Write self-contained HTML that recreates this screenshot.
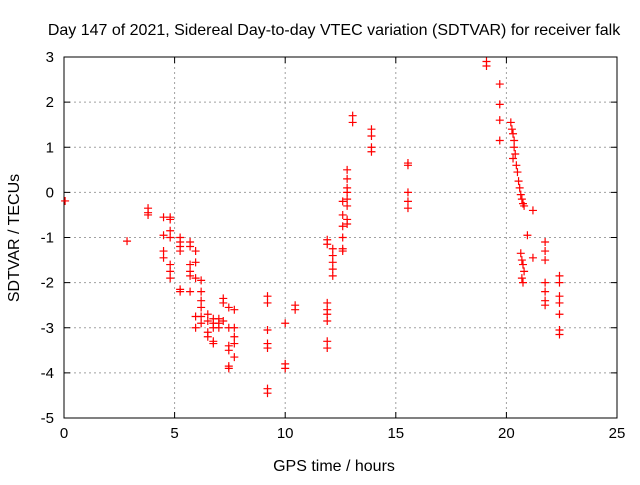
<!DOCTYPE html>
<html><head><meta charset="utf-8"><style>
body{margin:0;background:#fff;}
svg text{font-family:"Liberation Sans",sans-serif;font-size:15px;fill:#000;}
svg text.big{font-size:16px;}
</style></head><body>
<svg id="chart" width="640" height="480">
<text class="big" x="334" y="35" text-anchor="middle">Day 147 of 2021, Sidereal Day-to-day VTEC variation (SDTVAR) for receiver falk</text>
<text class="big" x="334" y="471" text-anchor="middle">GPS time / hours</text>
<text class="big" transform="translate(19,238) rotate(-90)" text-anchor="middle">SDTVAR / TECUs</text>
<g id="grid"></g><g id="axes"></g><g id="pts"></g>
</svg>
<script>
const xTicks=[0,5,10,15,20,25];
const yTicks=[-5,-4,-3,-2,-1,0,1,2,3];
const hours=[0.05,2.85,3.8,3.8,3.8,4.5,4.5,4.5,4.5,4.8,4.8,4.8,4.8,4.8,4.8,4.8,5.25,5.25,5.25,5.25,5.25,5.25,5.7,5.7,5.7,5.7,5.7,5.7,5.95,5.95,5.95,5.95,5.95,6.2,6.2,6.2,6.2,6.2,6.2,6.5,6.5,6.5,6.5,6.75,6.75,6.75,6.75,6.75,7.0,7.0,7.0,7.2,7.2,7.2,7.45,7.45,7.45,7.45,7.45,7.45,7.7,7.7,7.7,7.7,7.7,9.2,9.2,9.2,9.2,9.2,9.2,9.2,10.0,10.0,10.0,10.45,10.45,11.9,11.9,11.9,11.9,11.9,11.9,11.9,11.9,12.15,12.15,12.15,12.15,12.15,12.6,12.6,12.6,12.6,12.6,12.6,12.8,12.8,12.8,12.8,12.8,12.8,12.8,12.8,13.05,13.05,13.9,13.9,13.9,13.9,15.55,15.55,15.55,15.55,15.55,19.1,19.1,19.7,19.7,19.7,19.7,20.2,20.25,20.3,20.35,20.35,20.4,20.3,20.45,20.5,20.55,20.6,20.65,20.7,20.75,20.8,21.2,20.95,21.2,20.65,20.7,20.75,20.8,20.7,20.75,21.75,21.75,21.75,21.75,21.75,21.75,21.75,22.4,22.4,22.4,22.4,22.4,22.4,22.4];
const sdtvar=[-0.19,-1.08,-0.35,-0.45,-0.5,-0.55,-0.95,-1.3,-1.45,-0.55,-0.6,-0.85,-1.0,-1.6,-1.75,-1.9,-1.0,-1.1,-1.2,-1.3,-2.15,-2.2,-1.1,-1.2,-1.6,-1.75,-1.85,-2.2,-1.3,-1.55,-1.9,-2.75,-3.0,-1.95,-2.2,-2.4,-2.55,-2.75,-2.9,-2.7,-2.85,-3.1,-3.2,-2.8,-2.9,-3.0,-3.3,-3.35,-2.8,-2.9,-3.0,-2.35,-2.45,-2.85,-2.55,-3.0,-3.4,-3.5,-3.85,-3.9,-2.6,-3.0,-3.2,-3.35,-3.65,-2.3,-2.45,-3.05,-3.35,-3.45,-4.35,-4.45,-2.9,-3.8,-3.9,-2.5,-2.6,-1.05,-1.15,-2.45,-2.6,-2.7,-2.85,-3.3,-3.45,-1.25,-1.4,-1.55,-1.7,-1.85,-0.2,-0.5,-0.75,-1.0,-1.25,-1.3,0.5,0.3,0.1,0,-0.15,-0.3,-0.6,-0.7,1.7,1.55,1.4,1.25,1.0,0.9,0.65,0.6,0.0,-0.2,-0.35,2.9,2.8,2.4,1.95,1.6,1.15,1.55,1.4,1.3,1.15,1.0,0.85,0.75,0.6,0.45,0.25,0.1,-0.05,-0.15,-0.25,-0.3,-0.4,-0.95,-1.45,-1.35,-1.5,-1.6,-1.75,-1.9,-2.0,-1.1,-1.3,-1.5,-2.0,-2.2,-2.4,-2.5,-1.85,-2.0,-2.3,-2.45,-2.7,-3.05,-3.15];
const L=64,R=617,T=57,B=418;
const X=h=>L+(h-0)/25*(R-L);
const Y=v=>B-(v+5)/8*(B-T);
const NS="http://www.w3.org/2000/svg";
function mk(tag,attrs,parent){const e=document.createElementNS(NS,tag);for(const k in attrs)e.setAttribute(k,attrs[k]);parent.appendChild(e);return e;}
const grid=document.getElementById('grid'),axes=document.getElementById('axes'),pts=document.getElementById('pts');
xTicks.forEach(t=>{
  const x=X(t);
  if(t>0&&t<25){const g=mk('line',{x1:x,x2:x,y1:T,y2:B,stroke:'#a0a0a0','stroke-dasharray':'2,3'},grid);
  
  }
  mk('line',{x1:x,x2:x,y1:B,y2:B-6,stroke:'#000'},axes);
  mk('line',{x1:x,x2:x,y1:T,y2:T+6,stroke:'#000'},axes);
  const tx=mk('text',{x:x,y:B+20,'text-anchor':'middle'},axes);tx.textContent=t;
  
  
});
yTicks.forEach(t=>{
  const y=Y(t);
  if(t>-5&&t<3){const g=mk('line',{x1:L,x2:R,y1:y,y2:y,stroke:'#a0a0a0','stroke-dasharray':'2,3'},grid);
  
  }
  mk('line',{x1:L,x2:L+6,y1:y,y2:y,stroke:'#000'},axes);
  mk('line',{x1:R,x2:R-6,y1:y,y2:y,stroke:'#000'},axes);
  const tx=mk('text',{x:L-10,y:y+5,'text-anchor':'end'},axes);tx.textContent=t;
  
  
});
const fr=mk('rect',{x:L,y:T,width:R-L,height:B-T,fill:'none',stroke:'#000'},axes);


hours.forEach((h,i)=>{
  const x=X(h),y=Y(sdtvar[i]);
  const p=mk('path',{d:`M${x-4},${y}H${x+4}M${x},${y-4}V${y+4}`,stroke:'#ff0000','stroke-width':1.2},pts);
  
  
});
</script>
</body></html>
